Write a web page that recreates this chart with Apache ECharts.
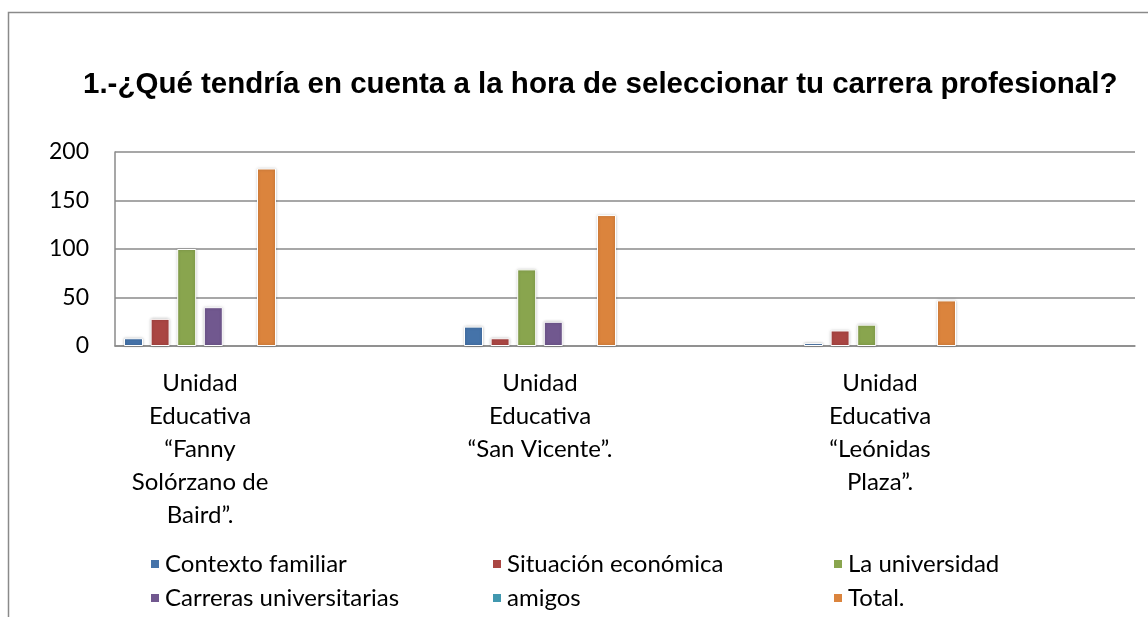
<!DOCTYPE html>
<html>
<head>
<meta charset="utf-8">
<script src="https://cdn.jsdelivr.net/npm/echarts@6/dist/echarts.min.js"></script>
<style>html,body{margin:0;padding:0;background:#fff}#c{width:1148px;height:617px}</style>
</head>
<body>
<div id="c"></div>
<script>
const titleText = '1.-¿Qué tendría en cuenta a la hora de seleccionar tu carrera profesional?';
const categories = [
  'Unidad\nEducativa\n“Fanny\nSolórzano de\nBaird”.',
  'Unidad\nEducativa\n“San Vicente”.',
  'Unidad\nEducativa\n“Leónidas\nPlaza”.'
];
const seriesNames = ['Contexto familiar', 'Situación económica', 'La universidad', 'Carreras universitarias', 'amigos', 'Total.'];
const contextoFamiliar = [8, 20, 3];
const situacionEconomica = [28, 8, 16];
const laUniversidad = [100, 79, 22];
const carrerasUniversitarias = [40, 25, 0];
const amigos = [0, 0, 0];
const total = [183, 135, 47];
const yTicks = [0, 50, 100, 150, 200];

const colors = ['#4573A9', '#AA4643', '#89A54E', '#71588F', '#4198AF', '#DB843D'];
const values = [contextoFamiliar, situacionEconomica, laUniversidad, carrerasUniversitarias, amigos, total];

// Excel layout: each category is followed by an empty slot
const axisCats = [];
categories.forEach((c) => { axisCats.push(c); axisCats.push(''); });
function spread(arr) {
  const out = [];
  arr.forEach(v => {
    out.push(v === 0 ? {value: 0, itemStyle: {borderWidth: 0, shadowBlur: 0, opacity: 0}} : v);
    out.push('-');
  });
  return out;
}

const font = 'Lato, "Open Sans", sans-serif';
const chart = echarts.init(document.getElementById('c'), null, {renderer: 'canvas'});
const legendCol = (left, names) => ({
  left: left, top: 552, orient: 'vertical', data: names, icon: 'rect', padding: 0,
  itemWidth: 10, itemHeight: 10, itemGap: 10,
  textStyle: {fontFamily: font, fontSize: 24, color: '#000'}
});
chart.setOption({
  animation: false,
  color: colors,
  title: {
    text: titleText, left: 78, top: 65,
    textStyle: {fontFamily: '"Liberation Sans", Arial, sans-serif', fontWeight: 'bold', fontSize: 29.5, color: '#000'}
  },
  graphic: [{type: 'rect', shape: {x: 8.5, y: 12.5, width: 1300, height: 800}, style: {fill: 'none', stroke: '#8a8a8a', lineWidth: 1.5}, silent: true, z: -1}],
  legend: [
    legendCol(149, [seriesNames[0], seriesNames[3]]),
    legendCol(491, [seriesNames[1], seriesNames[4]]),
    legendCol(832, [seriesNames[2], seriesNames[5]])
  ],
  grid: {left: 115, right: 13, top: 152, bottom: 271, containLabel: false},
  xAxis: {
    type: 'category', data: axisCats,
    axisLine: {show: true, lineStyle: {color: '#8a8a8a', width: 1.5}},
    axisTick: {show: false},
    axisLabel: {interval: 0, margin: 21, fontFamily: font, fontSize: 24, lineHeight: 33, color: '#000', align: 'center'}
  },
  yAxis: {
    type: 'value', min: yTicks[0], max: yTicks[yTicks.length - 1], interval: 50,
    axisLine: {show: true, lineStyle: {color: '#8a8a8a', width: 1.5}},
    axisTick: {show: false},
    splitLine: {lineStyle: {color: '#8a8a8a', width: 1.5}},
    axisLabel: {margin: 26, fontFamily: font, fontSize: 23, color: '#000'}
  },
  series: seriesNames.map((n, i) => ({
    name: n, type: 'bar', data: spread(values[i]),
    barWidth: 19, barGap: '40%',
    itemStyle: {color: colors[i], borderColor: '#fff', borderWidth: 1, shadowBlur: 3, shadowColor: 'rgba(0,0,0,0.25)'}
  }))
});
</script>
</body>
</html>
